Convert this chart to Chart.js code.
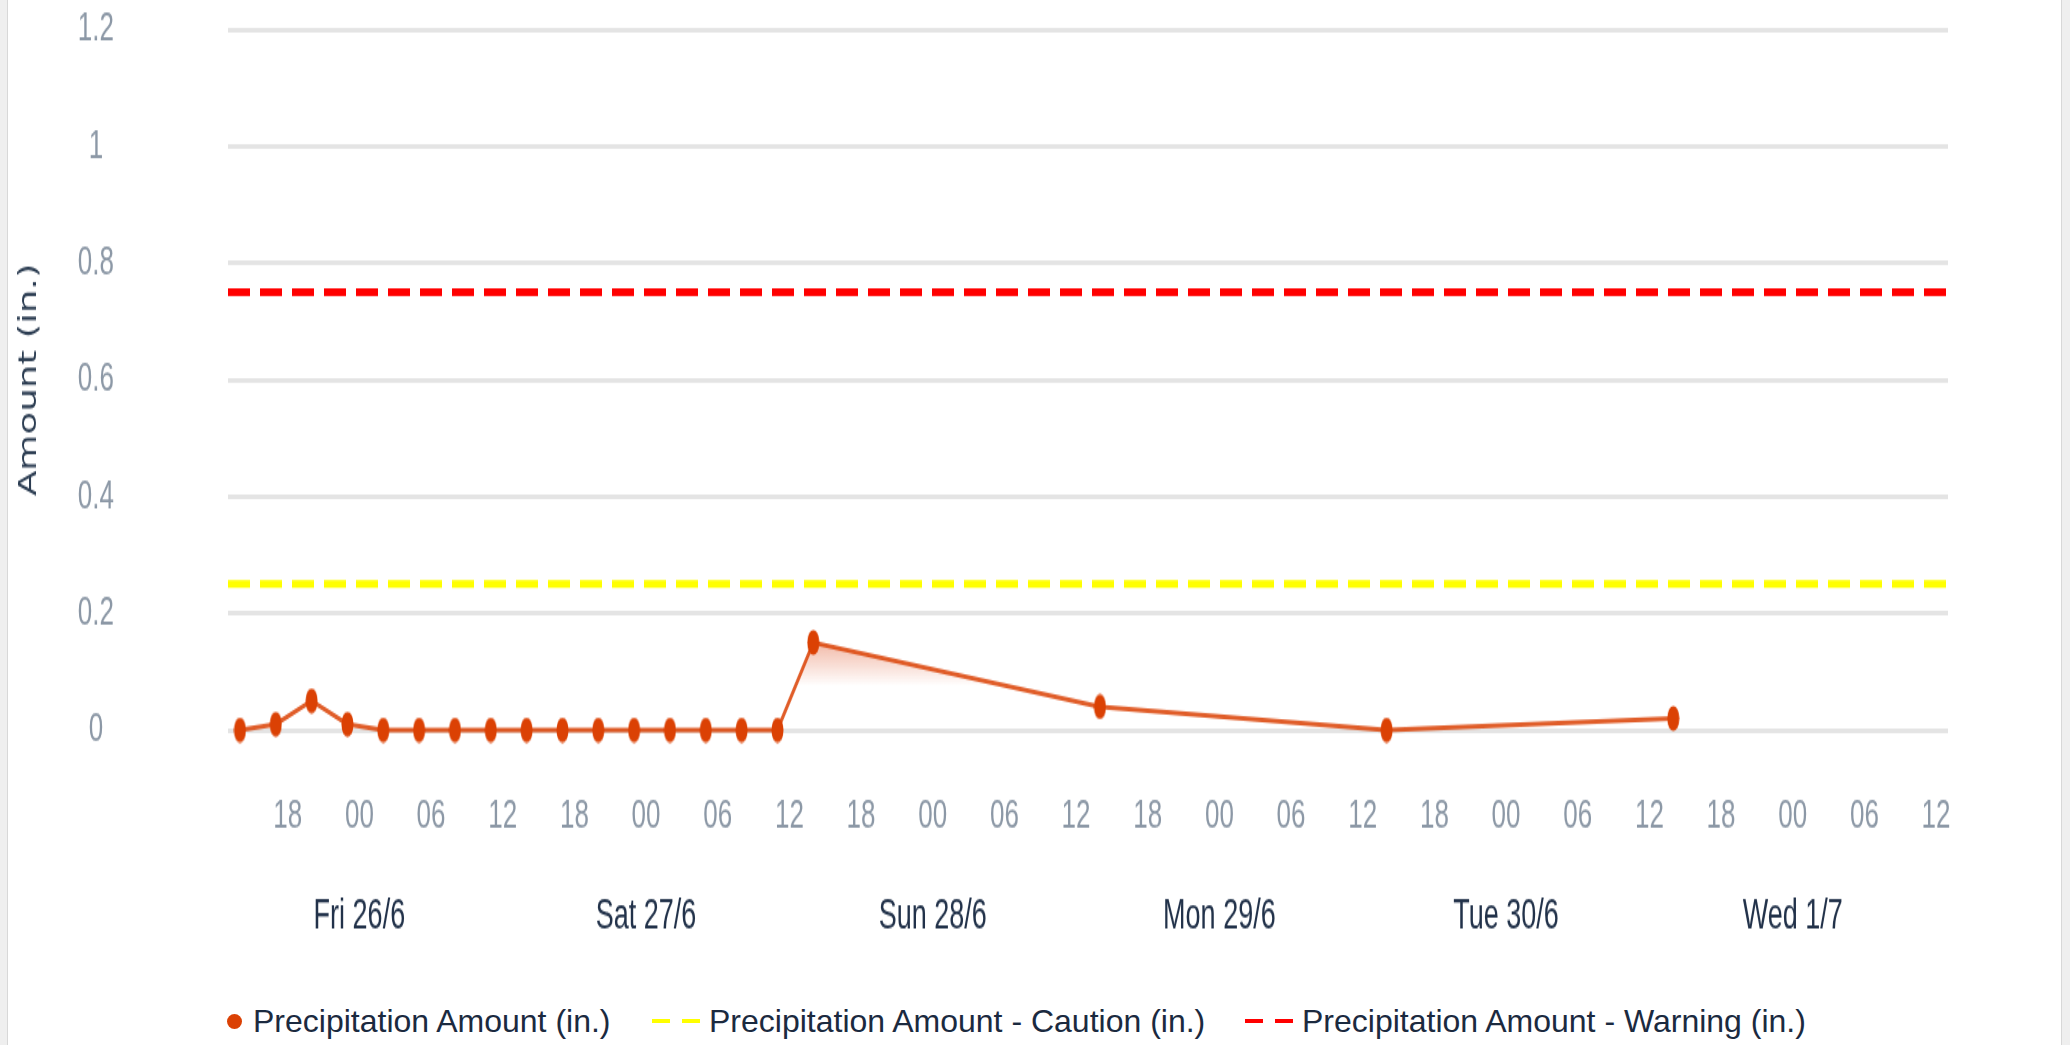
<!DOCTYPE html>
<html>
<head>
<meta charset="utf-8">
<script src="https://cdn.jsdelivr.net/npm/chart.js@4.4.1/dist/chart.umd.min.js"></script>
<style>
  html, body { margin: 0; padding: 0; background: #fff; }
  body { width: 2070px; height: 1045px; position: relative; overflow: hidden; font-family: 'Liberation Sans', Arial, sans-serif; }
  #wrap { position: absolute; left: 0; top: 0; width: 2070px; height: 620px; transform: scaleY(1.55); transform-origin: 0 0; }
  .edge { position: absolute; top: 0; height: 1045px; background: #efefef; }
  #edgeL { left: 0; width: 7px; border-right: 1px solid #d8d8d8; }
  #edgeR { left: 2061px; width: 9px; border-left: 1px solid #d8d8d8; }
  .legend-item { position: absolute; top: 1003px; height: 36px; display: flex; align-items: center; font-size: 32px; color: #1b2a3f; white-space: nowrap; }
  .dot { width: 15px; height: 15px; border-radius: 50%; margin-right: 11px; }
  .dash { width: 18px; height: 4px; }
  .dash + .dash { margin-left: 12px; }
  .dash-group { display: flex; margin-right: 9px; }
</style>
</head>
<body>
<div id="wrap"><canvas id="chart" width="2070" height="620"></canvas></div>
<div class="edge" id="edgeL"></div>
<div class="edge" id="edgeR"></div>
<div id="legend"></div>

<script>
// Hours counted from Thu 25/6 00:00
const pointHours = [14, 17, 20, 23, 26, 29, 32, 35, 38, 41, 44, 47, 50, 53, 56, 59, 62, 86, 110, 134];
const precipValues = [0, 0.01, 0.05, 0.01, 0, 0, 0, 0, 0, 0, 0, 0, 0, 0, 0, 0, 0.15, 0.04, 0, 0.02];

const cautionLevel = 0.25;
const warningLevel = 0.75;

const rangeHours = [13, 157];

const hourTicks = [18, 24, 30, 36, 42, 48, 54, 60, 66, 72, 78, 84, 90, 96, 102, 108, 114, 120, 126, 132, 138, 144, 150, 156];
const hourLabels = ['18', '00', '06', '12', '18', '00', '06', '12', '18', '00', '06', '12',
                    '18', '00', '06', '12', '18', '00', '06', '12', '18', '00', '06', '12'];

const dayTicks = [24, 48, 72, 96, 120, 144];
const dayLabels = ['Fri 26/6', 'Sat 27/6', 'Sun 28/6', 'Mon 29/6', 'Tue 30/6', 'Wed 1/7'];

const seriesNames = ['Precipitation Amount (in.)', 'Precipitation Amount - Caution (in.)', 'Precipitation Amount - Warning (in.)'];
const seriesColors = ['#db4104', '#ffff00', '#ff0000'];

// points in the reference look like tall ellipses
function makeEllipse(w, h, color) {
  const c = document.createElement('canvas');
  c.width = w;
  c.height = h;
  const g = c.getContext('2d');
  g.fillStyle = color;
  g.beginPath();
  g.ellipse(w / 2, h / 2, w / 2 - 0.5, h / 2 - 0.5, 0, 0, Math.PI * 2);
  g.fill();
  return c;
}

function areaGradient(context) {
  const chart = context.chart;
  if (!chart.chartArea) return 'rgba(0,0,0,0)';
  const y = chart.scales.y;
  const g = chart.ctx.createLinearGradient(0, y.getPixelForValue(0.16), 0, y.getPixelForValue(0.075));
  g.addColorStop(0, 'rgba(222, 80, 35, 0.45)');
  g.addColorStop(1, 'rgba(222, 80, 35, 0)');
  return g;
}

function levelLine(value) {
  return rangeHours.map(h => ({ x: h, y: value }));
}

const tickFont = { family: "'Liberation Sans', Arial, sans-serif", size: 26 };

const config = {
  type: 'line',
  data: {
    datasets: [
      {
        label: seriesNames[1],
        data: levelLine(cautionLevel),
        borderColor: seriesColors[1],
        borderWidth: 5,
        borderDash: [22, 10],
        pointRadius: 0,
        fill: false
      },
      {
        label: seriesNames[2],
        data: levelLine(warningLevel),
        borderColor: seriesColors[2],
        borderWidth: 5,
        borderDash: [22, 10],
        pointRadius: 0,
        fill: false
      },
      {
        label: seriesNames[0],
        data: pointHours.map((h, i) => ({ x: h, y: precipValues[i] })),
        borderColor: 'rgba(219, 65, 4, 0.85)',
        borderWidth: 3,
        backgroundColor: areaGradient,
        fill: 'origin',
        clip: false,
        pointStyle: makeEllipse(13, 17, seriesColors[0]),
        pointRadius: 7,
        tension: 0
      }
    ]
  },
  options: {
    responsive: false,
    animation: false,
    events: [],
    layout: { autoPadding: false, padding: { left: 0, right: 122, top: 19, bottom: 13 } },
    plugins: { legend: { display: false }, tooltip: { enabled: false } },
    scales: {
      x: {
        type: 'linear',
        min: rangeHours[0],
        max: rangeHours[1],
        grid: { display: false, drawTicks: false },
        border: { display: false },
        afterBuildTicks: scale => { scale.ticks = hourTicks.map(v => ({ value: v })); },
        afterFit: scale => { scale.height = 71; },
        ticks: {
          autoSkip: false,
          maxRotation: 0,
          padding: 40,
          color: '#8c98a6',
          font: tickFont,
          callback: (value, index) => hourLabels[index]
        }
      },
      x2: {
        type: 'linear',
        position: 'bottom',
        weight: 1,
        min: rangeHours[0],
        max: rangeHours[1],
        grid: { display: false, drawTicks: false },
        border: { display: false },
        afterBuildTicks: scale => { scale.ticks = dayTicks.map(v => ({ value: v })); },
        afterFit: scale => { scale.height = 65; },
        ticks: {
          autoSkip: false,
          maxRotation: 0,
          padding: 33,
          color: '#22324a',
          font: { family: "'Liberation Sans', Arial, sans-serif", size: 27 },
          callback: (value, index) => dayLabels[index]
        }
      },
      y: {
        min: 0,
        max: 1.2,
        grid: { color: '#e4e4e4', lineWidth: 3, drawTicks: false },
        border: { display: false },
        afterFit: scale => {
          scale.width = 228;
          // the big label padding would otherwise push the plot down
          scale.paddingTop = 0;
          scale.paddingBottom = 0;
        },
        title: {
          display: true,
          text: 'Amount (in.)',
          color: '#2c3d52',
          font: { family: "'DejaVu Sans', Verdana, sans-serif", size: 24 },
          padding: { top: 15, bottom: 0 }
        },
        ticks: {
          stepSize: 0.2,
          padding: 114,
          crossAlign: 'center',
          color: '#8c98a6',
          font: tickFont,
          callback: value => String(Number(value.toFixed(1)))
        }
      }
    }
  }
};

new Chart(document.getElementById('chart').getContext('2d'), config);

// HTML legend (not stretched in the reference)
function buildLegend() {
  const legend = document.getElementById('legend');
  const lefts = [227, 652, 1245];
  seriesNames.forEach((name, i) => {
    const item = document.createElement('div');
    item.className = 'legend-item';
    item.style.left = lefts[i] + 'px';
    let marker;
    if (i === 0) {
      marker = document.createElement('span');
      marker.className = 'dot';
      marker.style.background = seriesColors[i];
    } else {
      marker = document.createElement('span');
      marker.className = 'dash-group';
      for (let k = 0; k < 2; k++) {
        const d = document.createElement('span');
        d.className = 'dash';
        d.style.background = seriesColors[i];
        marker.appendChild(d);
      }
    }
    item.appendChild(marker);
    const text = document.createElement('span');
    text.textContent = name;
    item.appendChild(text);
    legend.appendChild(item);
  });
}
buildLegend();
</script>
</body>
</html>
